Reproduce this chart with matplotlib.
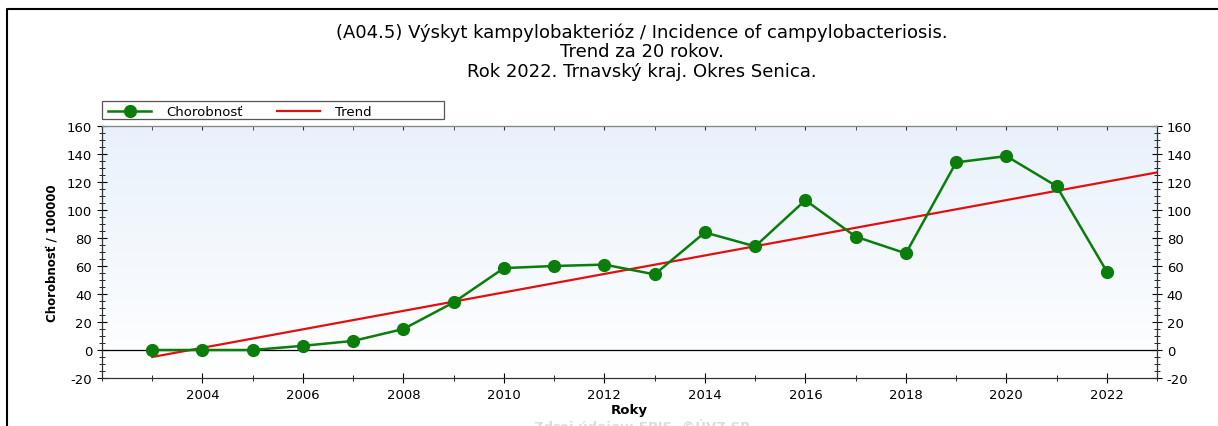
import numpy as np
import matplotlib
matplotlib.use("Agg")
import matplotlib.pyplot as plt
from matplotlib.ticker import MultipleLocator

plt.rcParams["axes.unicode_minus"] = False

# data
years = [2003, 2004, 2005, 2006, 2007, 2008, 2009, 2010, 2011, 2012,
         2013, 2014, 2015, 2016, 2017, 2018, 2019, 2020, 2021, 2022]
chorobnost = [0, 0, 0, 3, 6.5, 15, 34, 58.5, 60, 61,
              54, 84, 74, 107, 81, 69, 134, 138.5, 117, 56]
trend_years = [2003, 2023]
xticks = [2004, 2006, 2008, 2010, 2012, 2014, 2016, 2018, 2020, 2022]

title = ("(A04.5) Výskyt kampylobakterióz / Incidence of campylobacteriosis.\n"
         "Trend za 20 rokov.\n"
         "Rok 2022. Trnavský kraj. Okres Senica.")

# linearny trend z udajov
k, q = np.polyfit(years, chorobnost, 1)
trend_vals = [k * x + q for x in trend_years]

fig = plt.figure(figsize=(12.18, 4.27), dpi=100)
ax = fig.add_axes([0.0837, 0.1124, 0.8663, 0.5902])

ax.set_xlim(2002, 2023)
ax.set_ylim(-20, 160)

# gradient pozadia
grad = np.linspace(1, 0, 256).reshape(-1, 1)
cmap = matplotlib.colors.LinearSegmentedColormap.from_list("bg", ["#ffffff", "#e8f1fb"])
ax.imshow(grad, extent=[2002, 2023, -20, 160], aspect="auto", cmap=cmap, zorder=0)

ax.axhline(0, color="black", lw=0.9, zorder=1)
ax.plot(trend_years, trend_vals, color="#e01010", lw=1.6, zorder=2, label="Trend")
ax.plot(years, chorobnost, color="#0a7d0a", lw=1.8, marker="o", ms=8.5,
        mfc="#0a7d0a", mec="#0a7d0a", zorder=3, label="Chorobnosť")

ax.xaxis.set_major_locator(MultipleLocator(2))
ax.xaxis.set_minor_locator(MultipleLocator(1))
ax.yaxis.set_major_locator(MultipleLocator(20))
ax.yaxis.set_minor_locator(MultipleLocator(5))
ax.set_xticks(xticks)
ax.tick_params(axis="x", which="both", direction="inout", labelsize=9.5, pad=4)
ax.tick_params(axis="x", which="major", length=7)
ax.tick_params(axis="x", which="minor", length=4)
ax.tick_params(axis="y", which="both", direction="inout", right=True, labelright=True, labelsize=9.5)
ax.tick_params(axis="y", which="major", length=7)
ax.tick_params(axis="y", which="minor", length=5)

# kratke tiky hore, dovnutra
top = ax.secondary_xaxis("top")
top.xaxis.set_major_locator(MultipleLocator(2))
top.xaxis.set_minor_locator(MultipleLocator(1))
top.set_xticks(xticks)
top.tick_params(which="both", direction="in", labeltop=False, length=3, color="#333333")
top.spines["top"].set_color("#888888")

for s in ax.spines.values():
    s.set_color("#333333")
    s.set_linewidth(0.9)
ax.spines["top"].set_color("#888888")

ax.set_xlabel("Roky", fontsize=9.5, fontweight="bold", labelpad=1)
ax.set_ylabel("Chorobnosť / 100000", fontsize=8.5, fontweight="bold",
              family=["Liberation Sans Narrow", "DejaVu Sans"], labelpad=6)

fig.text(0.527, 0.945, title, ha="center", va="top", fontsize=13, linespacing=1.1)

h, l = ax.get_legend_handles_labels()
leg = ax.legend(h[::-1], l[::-1], ncol=2, loc="lower left",
                bbox_to_anchor=(0.003, 1.02), frameon=False, borderaxespad=0,
                fontsize=9.5, handlelength=3.3, borderpad=0.2,
                handletextpad=1.1, columnspacing=2.6)
frame = plt.Rectangle((0, 1.027), 0.324, 0.072, transform=ax.transAxes,
                      fill=False, edgecolor="#555555", lw=0.9, clip_on=False)
ax.add_patch(frame)

fig.text(0.527, 0.0, "Zdroj údajov: EPIS, ©ÚVZ SR", ha="center", va="center",
         fontsize=9.5, fontweight="bold", color="#dcdcdc")

# ramcek
fig.add_artist(plt.Line2D([7 / 1218, 7 / 1218, 1], [0, 1 - 10 / 427, 1 - 10 / 427],
                          transform=fig.transFigure, color="black", lw=1.5))

fig.savefig("out.png", dpi=100)
